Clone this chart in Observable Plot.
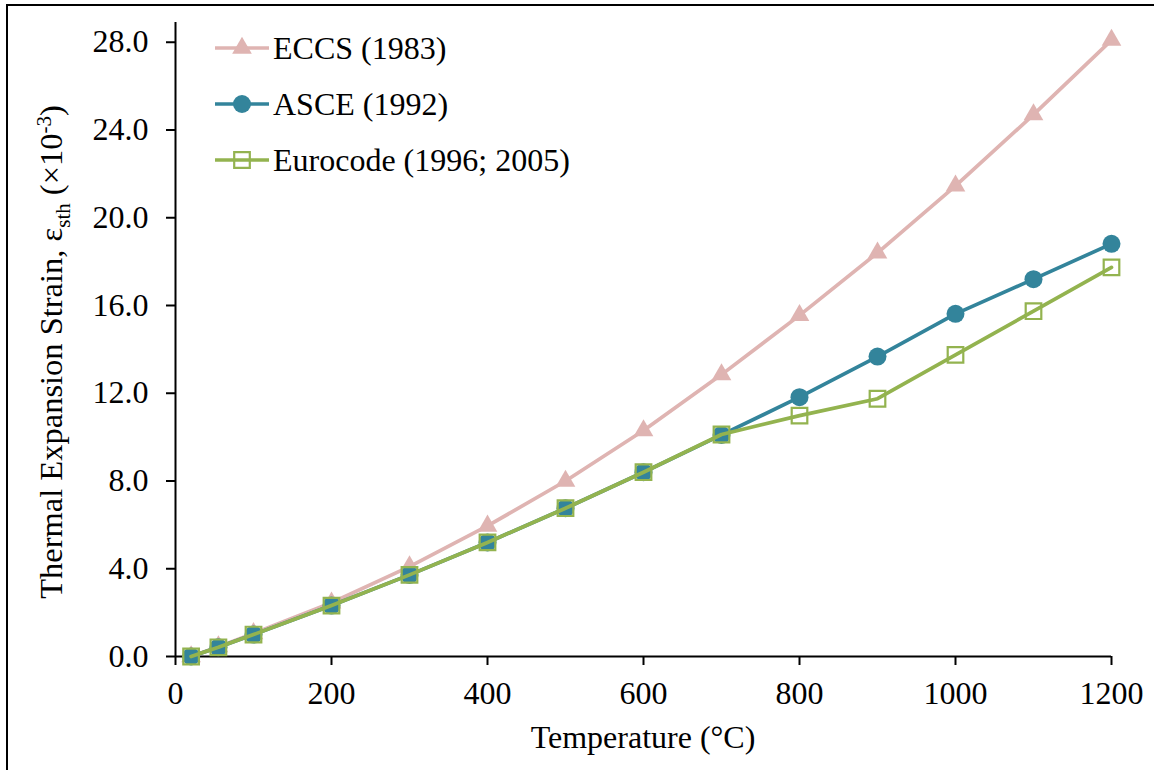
<!DOCTYPE html>
<html><head><meta charset="utf-8">
<script src="https://cdn.jsdelivr.net/npm/d3@7"></script>
<script src="https://cdn.jsdelivr.net/npm/@observablehq/plot@0.6"></script>
<style>
html,body{margin:0;padding:0;background:#fff;}
#wrap{position:relative;width:1154px;height:770px;overflow:hidden;}
#border{position:absolute;left:6px;top:4px;width:1200px;height:800px;border:2px solid #000;box-sizing:border-box;pointer-events:none;}
#chart{position:absolute;left:0;top:0;}
</style></head>
<body><div id="wrap"><div id="chart"></div><div id="border"></div></div>
<script>
// ---- data ----
const temps    = [20, 55, 100, 200, 300, 400, 500, 600, 700, 800, 900, 1000, 1100, 1200];
const eccs     = [0, 0.45, 1.05, 2.45, 4.1, 5.95, 8.0, 10.3, 12.85, 15.55, 18.4, 21.45, 24.7, 28.1];
const asce     = [0, 0.42, 1.0, 2.32, 3.72, 5.2, 6.76, 8.4, 10.1, 11.82, 13.67, 15.62, 17.2, 18.81];
const eurocode = [0, 0.42, 1.0, 2.32, 3.72, 5.2, 6.76, 8.4, 10.12, 10.98, 11.75, 13.75, 15.74, 17.74];
const seriesNames = ["ECCS (1983)", "ASCE (1992)", "Eurocode (1996; 2005)"];
const xTicks = [0, 200, 400, 600, 800, 1000, 1200];
const yTicks = [0, 4, 8, 12, 16, 20, 24, 28];
const xTitle = "Temperature (°C)";

// ---- styles ----
const FONT = "'Liberation Serif', 'Times New Roman', serif";
const FS = 32;
const styles = [
  {color: "#dfb4b2", symbol: "triangle", r: 7.3, fill: true},
  {color: "#33849b", symbol: "circle",   r: 9,   fill: true},
  {color: "#93b34f", symbol: "square",   r: 8.8, fill: false}
];
const seriesValues = [eccs, asce, eurocode];
const tables = seriesValues.map((vals, i) => temps.map((t, j) => ({T: t, v: vals[j], s: seriesNames[i]})));

const marks = [
  Plot.ruleY([0], {stroke: "#000", strokeWidth: 2}),
  Plot.ruleX([0], {stroke: "#000", strokeWidth: 2}),
  Plot.axisX({ticks: xTicks, tickSize: 9, tickPadding: 16, strokeWidth: 2, tickFormat: d => String(d), label: null, fontSize: FS}),
  Plot.axisY({ticks: yTicks, tickSize: 9, tickPadding: 18, strokeWidth: 2, tickFormat: d => d.toFixed(1), label: null, fontSize: FS})
];
tables.forEach((tab, i) => {
  const st = styles[i];
  marks.push(Plot.line(tab, {x: "T", y: "v", stroke: st.color, strokeWidth: 3.7, strokeLinejoin: "round", strokeLinecap: "round"}));
  marks.push(Plot.dot(tab, st.fill
    ? {x: "T", y: "v", symbol: st.symbol, r: st.r, fill: st.color, stroke: "none"}
    : {x: "T", y: "v", symbol: st.symbol, r: st.r, fill: "none", stroke: st.color, strokeWidth: 2.2}));
});

const chart = Plot.plot({
  width: 1154, height: 770,
  marginLeft: 175, marginRight: 43, marginTop: 22, marginBottom: 114,
  style: {fontFamily: FONT, fontSize: FS + "px", background: "transparent", color: "#000"},
  x: {domain: [0, 1200]},
  y: {domain: [0, 28.9]},
  marks
});
document.getElementById("chart").appendChild(chart);

// ---- titles and legend (text kept as real text) ----
const svg = d3.select(chart);
svg.append("text")
  .attr("x", 643).attr("y", 748)
  .attr("text-anchor", "middle")
  .style("font-family", FONT).style("font-size", FS + "px").attr("fill", "#000")
  .text(xTitle);

const yt = svg.append("text")
  .attr("transform", "translate(62,352) rotate(-90)")
  .attr("text-anchor", "middle")
  .style("font-family", FONT).style("font-size", "32.5px").attr("fill", "#000");
yt.append("tspan").text("Thermal Expansion Strain, ε");
yt.append("tspan").attr("dy", 8).style("font-size", "21px").text("sth");
yt.append("tspan").attr("dy", -8).text(" (×10");
yt.append("tspan").attr("dy", -11).style("font-size", "21px").text("-3");
yt.append("tspan").attr("dy", 11).text(")");

const leg = svg.append("g");
seriesNames.forEach((name, i) => {
  const st = styles[i];
  const cy = 48 + i * 56;
  leg.append("line").attr("x1", 215).attr("x2", 269).attr("y1", cy).attr("y2", cy)
    .attr("stroke", st.color).attr("stroke-width", 3.7);
  const sym = {triangle: d3.symbolTriangle, circle: d3.symbolCircle, square: d3.symbolSquare}[st.symbol];
  leg.append("path").attr("transform", `translate(242,${cy})`)
    .attr("d", d3.symbol(sym, Math.PI * st.r * st.r)())
    .attr("fill", st.fill ? st.color : "none")
    .attr("stroke", st.fill ? "none" : st.color)
    .attr("stroke-width", st.fill ? 0 : 2.2);
  leg.append("text").attr("x", 273).attr("y", cy).attr("dy", "0.35em")
    .attr("text-anchor", "start")
    .style("font-family", FONT).style("font-size", FS + "px").attr("fill", "#000")
    .text(name);
});
</script>
</body></html>
